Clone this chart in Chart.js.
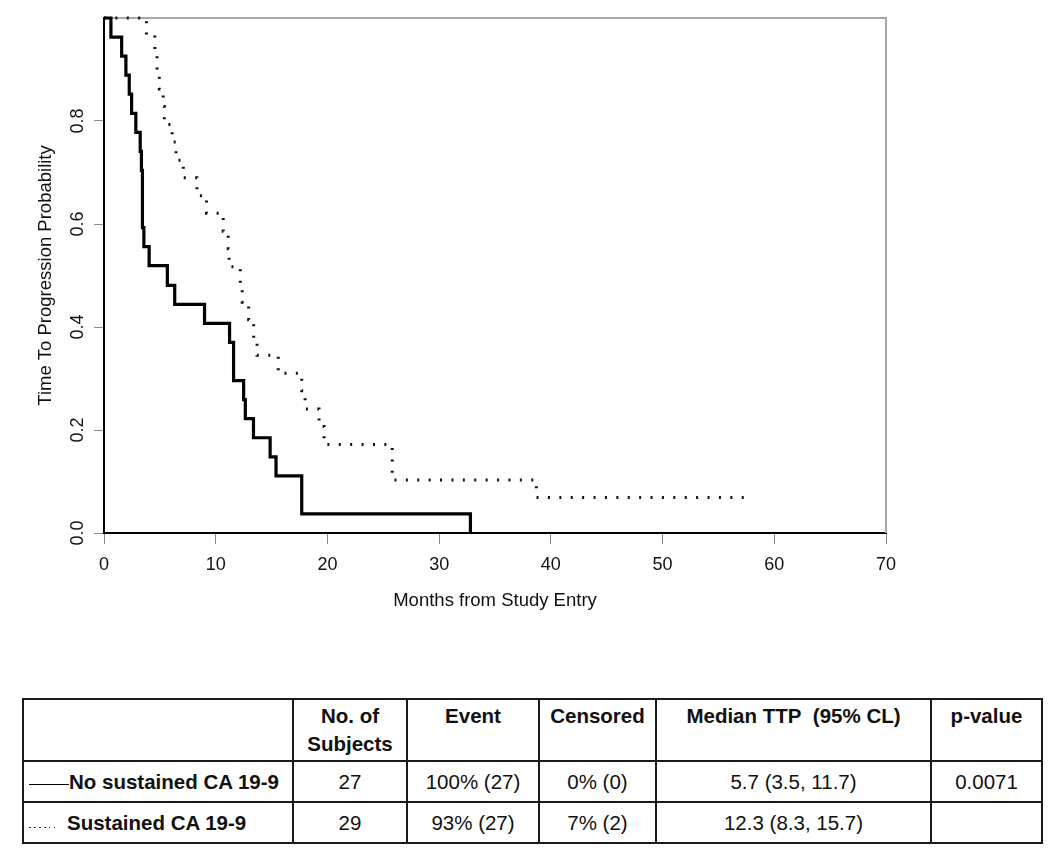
<!DOCTYPE html>
<html>
<head>
<meta charset="utf-8">
<script src="https://cdn.jsdelivr.net/npm/chart.js@4.4.1/dist/chart.umd.min.js"></script>
<style>
  body { margin: 0; background: #fff; font-family: "Liberation Sans", Arial, sans-serif; }
  #wrap { position: absolute; left: 0; top: 0; width: 1050px; height: 620px; }
  table { position: absolute; left: 22px; top: 698px; border-collapse: collapse; table-layout: fixed; width: 1019px; }
  td { border: 2px solid #1a1a1a; font-size: 20.5px; color: #111; text-align: center; padding: 0; }
  tr.head td { height: 58px; vertical-align: top; font-weight: bold; line-height: 28px; padding-top: 2px; }
  tr.row td { height: 39px; vertical-align: middle; }
  td.lab { text-align: left; font-weight: bold; padding-left: 5px; white-space: nowrap; }
  .solid { display: inline-block; width: 40px; height: 0; border-top: 1px solid #000; vertical-align: 4px; }
  .dots { display: inline-block; width: 30px; height: 1px; margin-right: 8px; vertical-align: 2px;
          background: repeating-linear-gradient(to right, #333 0 1.5px, transparent 1.5px 5px); }
</style>
</head>
<body>
<div id="wrap"><canvas id="km"></canvas></div>

<table>
  <colgroup>
    <col style="width:270px"><col style="width:114px"><col style="width:132px">
    <col style="width:117px"><col style="width:275px"><col style="width:111px">
  </colgroup>
  <tr class="head">
    <td></td><td>No. of<br>Subjects</td><td>Event</td><td>Censored</td><td>Median TTP&nbsp;&nbsp;(95% CL)</td><td>p-value</td>
  </tr>
  <tr class="row">
    <td class="lab"><span class="solid"></span>No sustained CA 19-9</td><td>27</td><td>100% (27)</td><td>0% (0)</td><td>5.7 (3.5, 11.7)</td><td>0.0071</td>
  </tr>
  <tr class="row">
    <td class="lab"><span class="dots"></span>Sustained CA 19-9</td><td>29</td><td>93% (27)</td><td>7% (2)</td><td>12.3 (8.3, 15.7)</td><td></td>
  </tr>
</table>

<script>
// Kaplan-Meier steps (months, probability)
var noSusTime = [0, 0.62, 1.58, 1.96, 2.26, 2.47, 2.85, 3.24, 3.35, 3.44, 3.57, 4.04, 5.67, 6.33, 9.0, 11.24, 11.6, 12.5, 12.65, 13.38, 14.87, 15.4, 17.7, 32.8];
var noSusProb = [1, 0.963, 0.926, 0.889, 0.852, 0.815, 0.778, 0.741, 0.704, 0.593, 0.556, 0.519, 0.481, 0.444, 0.407, 0.370, 0.296, 0.259, 0.222, 0.185, 0.148, 0.111, 0.037, 0];

var susTime = [0, 3.8, 4.55, 4.75, 4.95, 5.3, 5.4, 6.1, 6.45, 7.1, 8.32, 9.18, 10.67, 11.12, 11.2, 12.2, 12.37, 12.95, 13.4, 13.7, 15.6, 17.7, 18.0, 19.25, 19.7, 25.8, 38.7, 57.6];
var susProb = [1, 0.966, 0.931, 0.897, 0.862, 0.828, 0.793, 0.759, 0.724, 0.690, 0.655, 0.621, 0.586, 0.552, 0.517, 0.483, 0.448, 0.414, 0.379, 0.345, 0.310, 0.276, 0.241, 0.207, 0.172, 0.103, 0.069, 0.069];

var xTicks = [0, 10, 20, 30, 40, 50, 60, 70];
var yTicks = [0, 0.2, 0.4, 0.6, 0.8];

function pts(t, p) {
    return t.map(function(v, i) { return { x: v, y: p[i] }; });
}

var FONT = '"Liberation Sans", Arial, sans-serif';

// grey frame on top and right, like the original plot box
var boxPlugin = {
    id: 'box',
    beforeDatasetsDraw: function(chart) {
        var a = chart.chartArea, ctx = chart.ctx;
        ctx.save();
        ctx.strokeStyle = '#a8a8a8';
        ctx.lineWidth = 2;
        ctx.beginPath();
        ctx.moveTo(a.left, a.top);
        ctx.lineTo(a.right, a.top);
        ctx.lineTo(a.right, a.bottom);
        ctx.stroke();
        ctx.restore();
    }
};

// y tick labels are rotated in the original
var yLabelPlugin = {
    id: 'ylabels',
    afterDraw: function(chart) {
        var s = chart.scales.y, ctx = chart.ctx;
        ctx.save();
        ctx.font = '18px ' + FONT;
        ctx.fillStyle = '#111';
        ctx.textAlign = 'center';
        ctx.textBaseline = 'middle';
        s.ticks.forEach(function(t) {
            var y = s.getPixelForValue(t.value);
            ctx.save();
            ctx.translate(78, y);
            ctx.rotate(-Math.PI / 2);
            ctx.fillText(t.value.toFixed(1), 0, 0);
            ctx.restore();
        });
        ctx.restore();
    }
};

new Chart(document.getElementById('km'), {
    type: 'line',
    data: {
        datasets: [{
            label: 'No sustained CA 19-9',
            data: pts(noSusTime, noSusProb),
            stepped: true,
            borderColor: '#000',
            borderWidth: 3.2,
            borderJoinStyle: 'miter',
            pointRadius: 0,
            fill: false,
            clip: false
        }, {
            label: 'Sustained CA 19-9',
            data: pts(susTime, susProb),
            stepped: true,
            borderColor: '#111',
            borderWidth: 3,
            borderDash: [2, 9.4],
            borderJoinStyle: 'miter',
            pointRadius: 0,
            fill: false,
            clip: false
        }]
    },
    options: {
        responsive: true,
        maintainAspectRatio: false,
        animation: false,
        devicePixelRatio: 1,
        layout: { padding: { top: 18, right: 164, left: 0, bottom: 0 } },
        plugins: { legend: { display: false }, tooltip: { enabled: false } },
        scales: {
            x: {
                type: 'linear',
                min: 0,
                max: 70,
                afterBuildTicks: function(s) { s.ticks = xTicks.map(function(v) { return { value: v }; }); },
                afterFit: function(s) { s.height = 87; },
                ticks: { font: { size: 18, family: FONT }, color: '#111', padding: 10, maxRotation: 0 },
                grid: { drawOnChartArea: false, tickLength: 11, color: '#888' },
                border: { color: '#000', width: 2 },
                title: { display: true, text: 'Months from Study Entry', color: '#111',
                         font: { size: 18.5, family: FONT }, padding: { top: 4, bottom: 8 } }
            },
            y: {
                min: 0,
                max: 1,
                afterBuildTicks: function(s) { s.ticks = yTicks.map(function(v) { return { value: v }; }); },
                afterFit: function(s) { s.width = 104; },
                ticks: { display: false },
                grid: { drawOnChartArea: false, tickLength: 10, color: '#888' },
                border: { color: '#000', width: 2 },
                title: { display: true, text: 'Time To Progression Probability', color: '#111',
                         font: { size: 18.5, family: FONT }, padding: { top: 35, bottom: 0 } }
            }
        }
    },
    plugins: [boxPlugin, yLabelPlugin]
});
</script>
</body>
</html>
